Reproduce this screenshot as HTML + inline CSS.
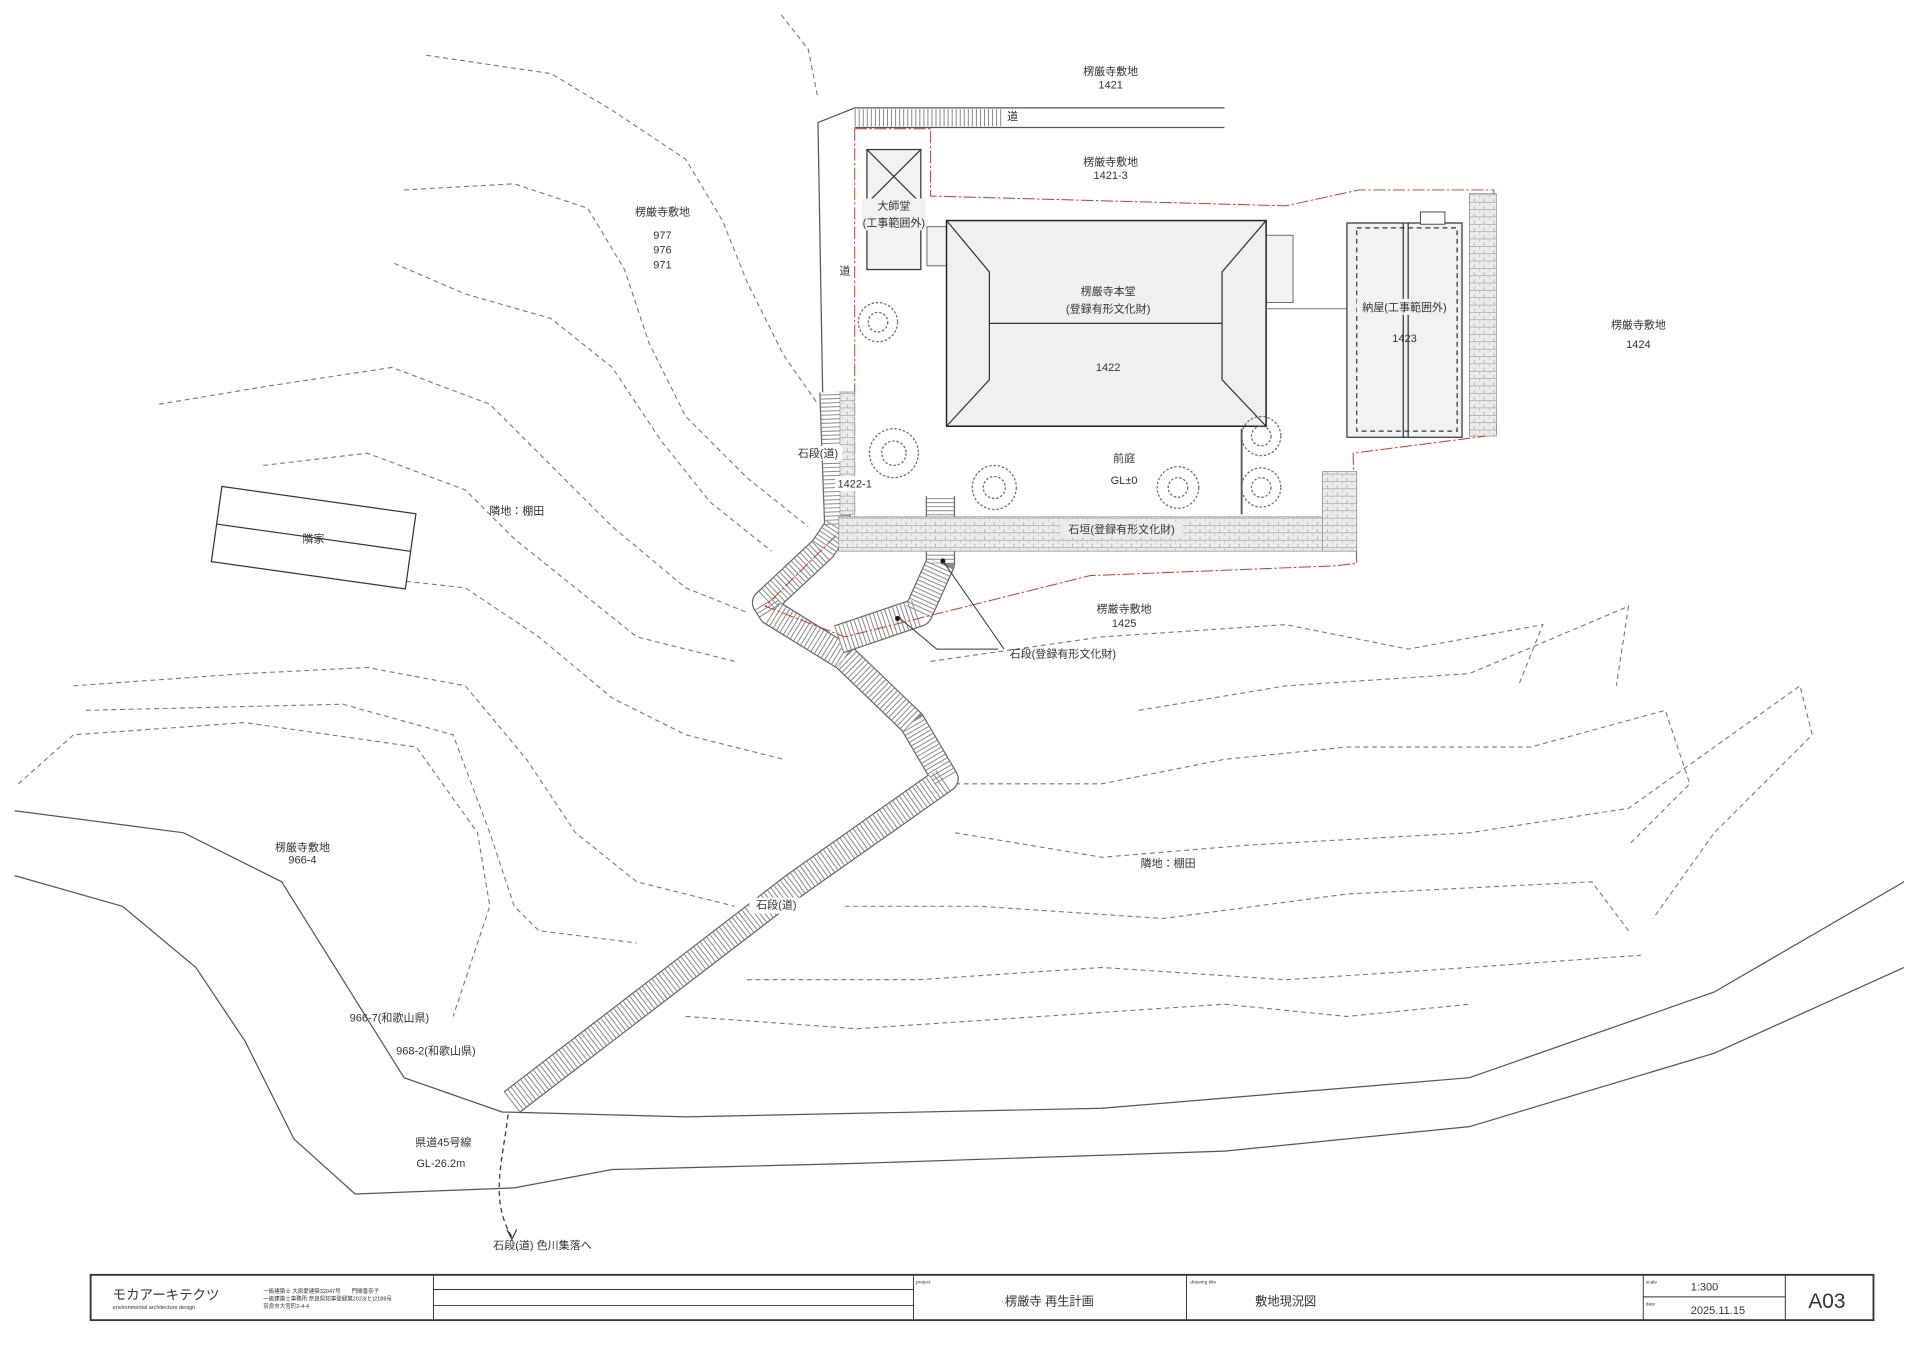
<!DOCTYPE html>
<html><head><meta charset="utf-8"><style>
html,body{margin:0;padding:0;background:#fff}
svg{display:block}
text{font-family:"Liberation Sans","Noto Sans CJK JP",sans-serif;fill:#333}
</style></head><body>
<svg width="1920" height="1357" viewBox="0 0 1568 1108" xmlns="http://www.w3.org/2000/svg">
<defs>
<pattern id="brick" width="8" height="6" patternUnits="userSpaceOnUse">
<rect width="8" height="6" fill="#ececec"/><path d="M0 3H8M4 0V3M0 3V6" stroke="#999" stroke-width="0.5"/>
</pattern>
</defs>
<g fill="none" stroke="#777" stroke-width="0.9" stroke-dasharray="4 3">
<path d="M638 12 L660 40 L668 80"/>
<path d="M348 45 L450 60 L500 90 L560 130 L590 180 L610 230 L640 290 L668 330"/>
<path d="M330 155 L420 150 L480 170 L510 220 L530 280 L560 340 L610 390 L660 430"/>
<path d="M322 215 L380 240 L450 260 L500 300 L540 360 L580 410 L630 450"/>
<path d="M130 330 L220 315 L320 300 L400 330 L450 380 L500 430 L560 480 L610 500"/>
<path d="M215 380 L300 370 L380 400 L420 440 L470 480 L520 520 L600 540"/>
<path d="M290 470 L380 480 L440 520 L500 570 L560 600 L640 620"/>
<path d="M60 560 L200 550 L300 545 L380 560 L430 620 L470 680 L520 720 L600 740"/>
<path d="M70 580 L280 575 L370 600 L400 680 L420 740 L440 760 L520 770"/>
<path d="M15 640 L60 600 L200 590 L340 610 L390 680 L400 740 L380 800 L370 830"/>
<path d="M760 540 L900 520 L1050 510 L1150 530 L1260 510 L1240 560"/>
<path d="M930 580 L1050 560 L1200 550 L1330 495 L1320 560"/>
<path d="M780 640 L900 640 L1000 620 L1100 610 L1250 610 L1360 580 L1380 640 L1330 690"/>
<path d="M780 680 L900 700 L1020 690 L1200 680 L1330 660 L1470 560 L1480 600 L1400 680 L1350 750"/>
<path d="M690 740 L800 740 L950 750 L1100 730 L1300 720 L1330 760"/>
<path d="M610 800 L750 800 L900 790 L1050 800 L1200 790 L1340 780"/>
<path d="M560 830 L700 840 L850 830 L1000 820 L1100 830 L1200 820"/>
</g>
<g fill="none" stroke="#555" stroke-width="1">
<path d="M12 662 L150 680 L230 720 L280 800 L330 880 L410 908 L560 912 L900 905 L1200 880 L1400 810 L1555 720"/>
<path d="M12 715 L100 740 L160 790 L200 850 L240 930 L290 975 L420 970 L500 955 L700 950 L1000 940 L1200 920 L1400 860 L1555 790"/>
<path d="M698 88 H1000 M698 104 H1000"/>
<path d="M672 330 L668 100 L698 88"/>
</g>
<path d="M698 96 H820" stroke="#888" stroke-width="14" stroke-dasharray="0.8 2.5" fill="none"/>
<!-- stairs -->
<g fill="none" stroke-linejoin="round">
<path d="M418 900 L650 722 L772 636 L745 590 L690 537 L630 500 L625 492 L672 448 L684 430 L680 320" stroke="#666" stroke-width="22"/>
<path d="M418 900 L650 722 L772 636 L745 590 L690 537 L630 500 L625 492 L672 448 L684 430 L680 320" stroke="#fff" stroke-width="20"/>
<path d="M418 900 L650 722 L772 636 L745 590 L690 537 L630 500 L625 492 L672 448 L684 430 L680 320" stroke="#888" stroke-width="20" stroke-dasharray="0.8 2.5"/>
<path d="M685 522 L750 500 L768 460 L768 405" stroke="#666" stroke-width="24"/>
<path d="M685 522 L750 500 L768 460 L768 405" stroke="#fff" stroke-width="22"/>
<path d="M685 522 L750 500 L768 460 L768 405" stroke="#888" stroke-width="22" stroke-dasharray="0.8 2.5"/>
</g>
<!-- red boundary -->
<path d="M698 105 L698 440 M698 105 L760 105 L760 160 L1050 168 L1110 155 L1220 155 L1222 355 L1105 370 L1108 460 L1090 462 L890 470 L690 520 L625 495 L685 435" fill="none" stroke="#c0392b" stroke-width="0.8" stroke-dasharray="10 2 2 2"/>
<!-- stone wall -->
<rect x="685" y="422" width="405" height="28" fill="url(#brick)" stroke="#888" stroke-width="0.6"/>
<rect x="1080" y="385" width="28" height="65" fill="url(#brick)" stroke="#888" stroke-width="0.6"/>
<rect x="1200" y="158" width="22" height="198" fill="url(#brick)" stroke="#888" stroke-width="0.6"/>
<rect x="686" y="320" width="12" height="100" fill="url(#brick)" stroke="#888" stroke-width="0.5"/>
<!-- Daishido -->
<rect x="708" y="122" width="44" height="98" fill="#f2f2f2" stroke="#333"/>
<path d="M708 122 L752 166 M752 122 L708 166" stroke="#333"/>
<rect x="757" y="185" width="20" height="32" fill="#f2f2f2" stroke="#555" stroke-width="0.7"/>
<!-- main hall -->
<rect x="1034" y="192" width="22" height="55" fill="#f2f2f2" stroke="#555" stroke-width="0.7"/>
<rect x="773" y="180" width="261" height="168" fill="#f0f0f0" stroke="#222" stroke-width="1.2"/>
<g stroke="#333" stroke-width="1" fill="none">
<path d="M773 180 L808 222 L808 310 L773 348 M1034 180 L998 222 L998 310 L1034 348 M808 264 H998"/>
</g>
<path d="M1034 252 H1100" stroke="#777" stroke-width="0.8"/>
<!-- storehouse -->
<rect x="1100" y="182" width="94" height="175" fill="#f2f2f2" stroke="#333"/>
<rect x="1108" y="186" width="82" height="166" fill="none" stroke="#333" stroke-dasharray="4 3"/>
<path d="M1146 182 V357 M1150 182 V357" stroke="#333"/>
<rect x="1160" y="173" width="20" height="10" fill="#fff" stroke="#333" stroke-width="0.7"/>
<!-- trees -->
<g fill="none" stroke="#666" stroke-width="1" stroke-dasharray="2 1.5">
<circle cx="717" cy="263" r="16"/><circle cx="730" cy="370" r="20"/><circle cx="812" cy="398" r="18"/>
<circle cx="962" cy="398" r="17"/><circle cx="1030" cy="356" r="16"/><circle cx="1030" cy="398" r="16"/>
<circle cx="717" cy="263" r="8"/><circle cx="730" cy="370" r="10"/><circle cx="812" cy="398" r="9"/>
<circle cx="962" cy="398" r="8"/><circle cx="1030" cy="356" r="8"/><circle cx="1030" cy="398" r="8"/>
</g>
<path d="M1014 350 V420" stroke="#555" stroke-width="1.5"/>
<!-- neighbor house -->
<g transform="rotate(8 256 440)"><rect x="176" y="408" width="160" height="62" fill="#fff" stroke="#333"/><path d="M176 439 H336" stroke="#333"/></g>
<!-- leader lines -->
<path d="M770 458 L820 530 M735 505 L765 530 H815" stroke="#333" fill="none" stroke-width="0.8"/>
<circle cx="770" cy="458" r="2" fill="#111"/><circle cx="733" cy="505" r="2" fill="#111"/>
<path d="M415 910 C410 950 400 980 418 1010" fill="none" stroke="#333" stroke-dasharray="4 3"/>
<path d="M414 1004 L418 1012 L422 1004" fill="none" stroke="#333"/>
<g font-size="9" text-anchor="middle">
<text x="907" y="61">楞厳寺敷地</text><text x="907" y="72">1421</text>
<rect x="820" y="89" width="14" height="12" fill="#fff"/><text x="827" y="98">道</text>
<text x="907" y="135">楞厳寺敷地</text><text x="907" y="146">1421-3</text>
<rect x="704" y="162" width="52" height="26" fill="#f2f2f2"/>
<text x="730" y="171">大師堂</text><text x="730" y="185">(工事範囲外)</text>
<text x="690" y="224">道</text>
<text x="541" y="176">楞厳寺敷地</text><text x="541" y="195">977</text><text x="541" y="207">976</text><text x="541" y="219">971</text>
<text x="905" y="241">楞厳寺本堂</text><text x="905" y="255">(登録有形文化財)</text>
<text x="905" y="303">1422</text>
<rect x="1108" y="244" width="78" height="13" fill="#f2f2f2"/>
<text x="1147" y="254">納屋(工事範囲外)</text><text x="1147" y="279">1423</text>
<text x="1338" y="268">楞厳寺敷地</text><text x="1338" y="284">1424</text>
<rect x="646" y="364" width="42" height="12" fill="#fff"/><text x="668" y="373">石段(道)</text>
<rect x="682" y="389" width="34" height="12" fill="#fff"/><text x="698" y="398">1422-1</text>
<text x="918" y="377">前庭</text><text x="918" y="395">GL±0</text>
<text x="422" y="420">隣地：棚田</text>
<text x="256" y="443">隣家</text>
<rect x="866" y="426" width="100" height="13" fill="#ececec"/><text x="916" y="435">石垣(登録有形文化財)</text>
<text x="918" y="500">楞厳寺敷地</text><text x="918" y="512">1425</text>
<text x="868" y="537">石段(登録有形文化財)</text>
<text x="247" y="695">楞厳寺敷地</text><text x="247" y="705">966-4</text>
<text x="954" y="708">隣地：棚田</text>
<rect x="612" y="733" width="44" height="13" fill="#fff"/><text x="634" y="742">石段(道)</text>
<text x="318" y="834">966-7(和歌山県)</text>
<text x="356" y="861">968-2(和歌山県)</text>
<text x="362" y="936">県道45号線</text><text x="360" y="953">GL-26.2m</text>
<text x="443" y="1020">石段(道) 色川集落へ</text>
</g>
<!-- title block -->
<g stroke="#333" fill="none">
<rect x="74" y="1041" width="1456" height="37" stroke-width="1.5"/>
<path d="M354 1041 V1078 M746 1041 V1078 M969 1041 V1078 M1342 1041 V1078 M1458 1041 V1078 M1342 1059 H1458 M354 1053 H746 M354 1066 H746" stroke-width="0.8"/>
</g>
<g>
<text x="92" y="1061" font-size="11">モカアーキテクツ</text>
<text x="92" y="1069" font-size="4.5">environmental architecture design</text>
<text x="215" y="1056" font-size="4.5">一級建築士 大原愛建築32047号　　門間香奈子</text>
<text x="215" y="1062" font-size="4.5">一級建築士事務所 奈良県知事登録第2023(ヒ)2188号</text>
<text x="215" y="1068" font-size="4.5">奈良市大宮町2-4-4</text>
<text x="748" y="1048" font-size="4">project</text>
<text x="972" y="1048" font-size="4">drawing title</text>
<text x="1344" y="1048" font-size="4">scale</text>
<text x="1344" y="1066" font-size="4">date</text>
<text x="857" y="1066" font-size="10" text-anchor="middle">楞厳寺 再生計画</text>
<text x="1050" y="1066" font-size="10" text-anchor="middle">敷地現況図</text>
<text x="1392" y="1054" font-size="9" text-anchor="middle">1:300</text>
<text x="1403" y="1073" font-size="9" text-anchor="middle">2025.11.15</text>
<text x="1492" y="1068" font-size="17" text-anchor="middle">A03</text>
</g>
</svg>
</body></html>
